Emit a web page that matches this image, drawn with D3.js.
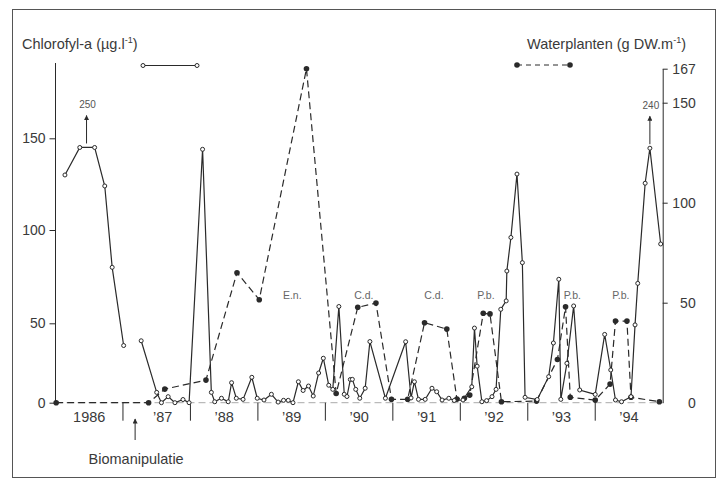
<!DOCTYPE html>
<html>
<head>
<meta charset="utf-8">
<script src="https://cdn.jsdelivr.net/npm/d3@7"></script>
<style>
  body { margin: 0; background: #fff; }
  svg { display: block; font-family: "Liberation Sans", Arial, sans-serif; }
</style>
</head>
<body>
<svg id="chart" width="719" height="480"></svg>
<script>
// Chlorofyl-a (µg/l), open circles, left axis
const chlYears = [1986.14, 1986.36, 1986.58, 1986.73, 1986.84, 1987.01,
  1987.27, 1987.50, 1987.57, 1987.67, 1987.77, 1987.89, 1987.98,
  1988.18, 1988.31, 1988.36, 1988.46, 1988.56, 1988.61, 1988.68, 1988.78, 1988.91, 1988.99,
  1989.09, 1989.20, 1989.30, 1989.38, 1989.45, 1989.52, 1989.60, 1989.67, 1989.75, 1989.82, 1989.90, 1989.97,
  1990.05, 1990.11, 1990.20, 1990.28, 1990.32, 1990.37, 1990.40, 1990.45, 1990.51, 1990.59, 1990.66, 1990.89,
  1991.19, 1991.27, 1991.32, 1991.38, 1991.48, 1991.58, 1991.65, 1991.73, 1991.83, 1991.91,
  1992.04, 1992.17, 1992.21, 1992.25, 1992.32, 1992.39, 1992.47, 1992.53, 1992.60, 1992.68, 1992.69,
  1992.75, 1992.84, 1992.92, 1992.96,
  1993.14, 1993.31, 1993.38, 1993.46, 1993.49, 1993.58, 1993.68, 1993.77,
  1994.00, 1994.14, 1994.23, 1994.30, 1994.39, 1994.53, 1994.59, 1994.63, 1994.74, 1994.81, 1994.97];
const chlValues = [130, 145, 145, 124, 80, 36,
  39, 6.5, 0, 3.8, 0, 2, 0,
  144, 6.5, 0.6, 2.8, 0.6, 12.6, 2.8, 2.1, 16, 2.8,
  1.7, 5.3, 0.4, 1.5, 1.5, 0, 13.2, 7.7, 10.5, 4.2, 18.7, 28,
  11, 8.4, 59, 5.3, 3.9, 14.6, 14.7, 8.4, 2.8, 9.1, 38.5, 2.8,
  38.4, 3, 13.2, 2.1, 2.1, 9.1, 6.9, 1.7, 2.8, 1.4,
  1.7, 10, 47, 23, 0.6, 1.3, 3.8, 8.4, 57.5, 62, 78,
  96, 130.5, 82.5, 3.4,
  2, 16.4, 37.6, 73.6, 2.1, 24.8, 59.3, 8,
  5.2, 43, 20.6, 1.7, 0.6, 3.8, 49, 71.4, 125.5, 144.6, 92.5];

// Waterplanten (g DW/m), filled circles, right axis
const plantYears = [1986.01, 1987.38, 1987.62, 1988.23, 1988.69, 1989.02, 1989.72,
  1990.16, 1990.48, 1990.75, 1990.98, 1991.22, 1991.47, 1991.80, 1991.95,
  1992.06, 1992.14, 1992.34, 1992.44, 1992.61, 1993.13, 1993.44, 1993.56, 1993.63,
  1994.00, 1994.22, 1994.30, 1994.47, 1994.53, 1994.95];
const plantValues = [0, 0, 6.8, 11.3, 65, 51.5, 167,
  4.6, 47.7, 49.8, 1.7, 1.7, 40, 36.8, 1.8,
  2.2, 3.8, 44.7, 44.4, 0.5, 0.8, 21.6, 48, 2.7,
  1.3, 9.3, 40.8, 40.8, 2.7, 0.5];

const leftTicks = [0, 50, 100, 150];
const rightTicks = [0, 50, 100, 150, 167];
const yearTicks = [1987, 1988, 1989, 1990, 1991, 1992, 1993, 1994];
const yearLabels = ["1986", "\u201987", "\u201988", "\u201989", "\u201990", "\u201991", "\u201992", "\u201993", "\u201994"];
const biomanipulatie = 1987.18;

// dominant species labels and off-scale peaks
const speciesNotes = [["E.n.", 1989.51], ["C.d.", 1990.57], ["C.d.", 1991.61],
  ["P.b.", 1992.38], ["P.b.", 1993.66], ["P.b.", 1994.38]];
const offScale = [{ label: "250", year: 1986.46, value: 145 }, { label: "240", year: 1994.81, value: 144.6 }];

const ink = "#2a2a2a", txt = "#3a3a3a";
const svg = d3.select("#chart");

const x = d3.scaleLinear().domain([1986, 1995]).range([55.5, 662.7]);
const yL = d3.scaleLinear().domain(leftTicks).range([402.7, 323.3, 230, 138.3]);
const yR = d3.scaleLinear().domain([0, 167]).range([402.7, 68.7]);

svg.append("defs").append("marker")
  .attr("id", "head").attr("viewBox", "0 0 10 10")
  .attr("refX", 9).attr("refY", 5).attr("markerWidth", 7).attr("markerHeight", 5)
  .attr("orient", "auto").attr("markerUnits", "userSpaceOnUse")
  .append("path").attr("d", "M0,0 L10,5 L0,10 Z").attr("fill", ink);

// frame
svg.append("rect").attr("x", 12.5).attr("y", 9.5).attr("width", 703).attr("height", 468)
  .attr("fill", "none").attr("stroke", "#555").attr("stroke-width", 1);

// baseline
svg.append("line")
  .attr("x1", x(1986)).attr("x2", x(1995)).attr("y1", yR(0)).attr("y2", yR(0))
  .attr("stroke", "#aaa").attr("stroke-dasharray", "7,4");

// left axis
const gl = svg.append("g").attr("transform", `translate(${x(1986)},0)`)
  .call(d3.axisLeft(yL).tickValues(leftTicks).tickSize(6).tickSizeOuter(0).tickPadding(4));
gl.select(".domain").remove();
gl.append("line").attr("y1", 63).attr("y2", yL(0)).attr("stroke", ink);
gl.selectAll("line").attr("stroke", ink);
gl.selectAll("text").attr("font-size", 14).attr("font-family", "Liberation Sans, Arial, sans-serif").attr("fill", txt);

// right axis
const gr = svg.append("g").attr("transform", `translate(${x(1995)},0)`)
  .call(d3.axisRight(yR).tickValues(rightTicks).tickSize(5).tickSizeOuter(0));
gr.selectAll("path, line").attr("stroke", ink);
gr.selectAll(".tick").filter(d => d === 0).select("line").remove();
gr.selectAll("text").attr("font-size", 14).attr("font-family", "Liberation Sans, Arial, sans-serif")
  .attr("fill", txt).attr("x", 33).attr("text-anchor", "end");

// year separators and labels
svg.append("g").selectAll("line").data(yearTicks).join("line")
  .attr("x1", d => x(d)).attr("x2", d => x(d))
  .attr("y1", yL(0)).attr("y2", yL(0) + 18).attr("stroke", ink);
svg.append("g").selectAll("text").data(yearLabels).join("text")
  .attr("x", (d, i) => x(1986.5 + i) + (i === 1 ? 6 : 0)).attr("y", 422)
  .attr("text-anchor", "middle").attr("font-size", 14.5).attr("fill", txt).text(d => d);

// biomanipulation arrow
svg.append("line").attr("x1", x(biomanipulatie)).attr("x2", x(biomanipulatie))
  .attr("y1", 440).attr("y2", 419).attr("stroke", ink).attr("marker-end", "url(#head)");
svg.append("text").attr("x", x(biomanipulatie) + 1).attr("y", 464)
  .attr("text-anchor", "middle").attr("font-size", 14.5).attr("fill", txt).text("Biomanipulatie");

// waterplanten line
const plant = plantYears.map((t, i) => [t, plantValues[i]]);
svg.append("path").datum(plant)
  .attr("d", d3.line().x(d => x(d[0])).y(d => yR(d[1])))
  .attr("fill", "none").attr("stroke", ink).attr("stroke-width", 1.2).attr("stroke-dasharray", "7,4");

// chlorofyl line, broken at the biomanipulation
const chl = chlYears.map((t, i) => [t, chlValues[i]]);
const chlLine = d3.line().x(d => x(d[0])).y(d => yL(d[1]));
[chl.filter(d => d[0] < biomanipulatie), chl.filter(d => d[0] > biomanipulatie)].forEach(seg => {
  svg.append("path").datum(seg).attr("d", chlLine)
    .attr("fill", "none").attr("stroke", ink).attr("stroke-width", 1.2);
});

svg.append("g").selectAll("circle").data(plant).join("circle")
  .attr("cx", d => x(d[0])).attr("cy", d => yR(d[1])).attr("r", 2.8).attr("fill", ink);
svg.append("g").selectAll("circle").data(chl).join("circle")
  .attr("cx", d => x(d[0])).attr("cy", d => yL(d[1])).attr("r", 2)
  .attr("fill", "#fff").attr("stroke", ink).attr("stroke-width", 1);

// off-scale arrows
offScale.forEach(o => {
  const top = yL(o.value) - 32;
  svg.append("line").attr("x1", x(o.year)).attr("x2", x(o.year))
    .attr("y1", yL(o.value) - 4).attr("y2", top).attr("stroke", ink).attr("marker-end", "url(#head)");
  svg.append("text").attr("x", x(o.year) + 1).attr("y", top - 7).attr("text-anchor", "middle")
    .attr("font-size", 10).attr("fill", "#555").text(o.label);
});

// species notes
svg.append("g").selectAll("text").data(speciesNotes).join("text")
  .attr("x", d => x(d[1])).attr("y", 298.5).attr("text-anchor", "middle")
  .attr("font-size", 10.5).attr("fill", "#666").text(d => d[0]);

// legend
const t1 = svg.append("text").attr("x", 22).attr("y", 49).attr("font-size", 14.5).attr("fill", txt);
t1.append("tspan").text("Chlorofyl-a (\u00b5g.l");
t1.append("tspan").attr("font-size", 9).attr("dy", -6).text("-1");
t1.append("tspan").attr("dy", 6).text(")");
const t2 = svg.append("text").attr("x", 686).attr("y", 49).attr("text-anchor", "end").attr("font-size", 14.5).attr("fill", txt);
t2.append("tspan").text("Waterplanten (g DW.m");
t2.append("tspan").attr("font-size", 9).attr("dy", -6).text("-1");
t2.append("tspan").attr("dy", 6).text(")");

svg.append("line").attr("x1", 143).attr("x2", 197).attr("y1", 65.5).attr("y2", 65.5).attr("stroke", ink);
svg.append("g").selectAll("circle").data([143, 197]).join("circle")
  .attr("cx", d => d).attr("cy", 65.5).attr("r", 2).attr("fill", "#fff").attr("stroke", ink);
svg.append("line").attr("x1", 517).attr("x2", 570).attr("y1", 65).attr("y2", 65)
  .attr("stroke", ink).attr("stroke-dasharray", "5,4");
svg.append("g").selectAll("circle").data([517, 570]).join("circle")
  .attr("cx", d => d).attr("cy", 65).attr("r", 2.8).attr("fill", ink);
</script>
</body>
</html>
